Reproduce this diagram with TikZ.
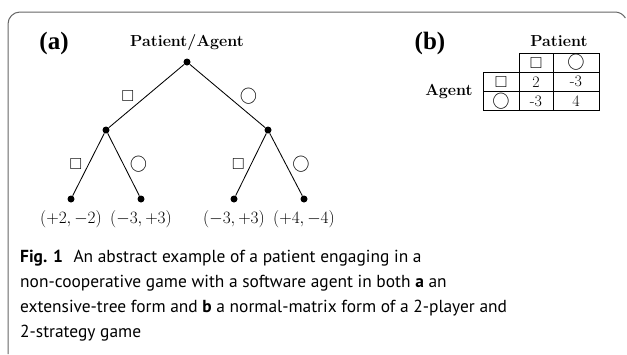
\documentclass[tikz,border=0pt]{standalone}
\usepackage{amssymb}
\usepackage{fontspec}
\newfontfamily\capfont{PT Sans}
\newfontfamily\panelfont{Liberation Serif}
\usetikzlibrary{positioning}

\tikzset{
  treedot/.style={circle, fill=black, inner sep=0pt, minimum size=7pt},
  txt/.style={font=\fontsize{16}{19.2}\selectfont, inner sep=0pt},
  txtbf/.style={font=\fontsize{16}{19.2}\selectfont\bfseries, inner sep=0pt},
  panel/.style={font=\panelfont\fontsize{25}{29}\selectfont\bfseries, inner sep=0pt},
  branch/.style={line width=0.85pt},
  gridline/.style={line width=0.85pt},
  framed/.style={line width=1pt, draw=black!60},
  capnode/.style={font=\capfont\fontsize{17.4}{25}\selectfont, inner sep=0pt, align=left}
}

\begin{document}
\begin{tikzpicture}[x=1pt, y=-1pt]
  \useasboundingbox (0,0) rectangle (627,354);

  % outer frame: open at the bottom, rounded at the top corners
  \draw[framed] (8,354) -- (8,24) arc[start angle=180, end angle=270, radius=12]
        -- (615,12) arc[start angle=270, end angle=330, radius=12];

  % ---- (a) extensive form ----
  \node[panel] (pa) at (54,43) {(a)};
  \node[txtbf] (pl) at (187,42) {Patient/Agent};

  \node[treedot] (root) at (187,62) {};
  \node[treedot] (nl) at (106,130) {};
  \node[treedot] (nr) at (268,130) {};
  \node[treedot] (ll) at (71,199) {};
  \node[treedot] (lr) at (141,199) {};
  \node[treedot] (rl) at (234,199) {};
  \node[treedot] (rr) at (304,199) {};

  \draw[branch] (root) -- node[txt, left=12pt] (e1) {$\square$} (nl);
  \draw[branch] (root) -- node[txt, right=12pt] (e2) {$\bigcirc$} (nr);
  \draw[branch] (nl) -- node[txt, left=6pt] (e3) {$\square$} (ll);
  \draw[branch] (nl) -- node[txt, right=6pt] (e4) {$\bigcirc$} (lr);
  \draw[branch] (nr) -- node[txt, left=6pt] (e5) {$\square$} (rl);
  \draw[branch] (nr) -- node[txt, right=6pt] (e6) {$\bigcirc$} (rr);

  \node[txt, below=8pt of ll] (pll) {$(+2,-2)$};
  \node[txt, below=8pt of lr] (plr) {$(-3,+3)$};
  \node[txt, below=8pt of rl] (prl) {$(-3,+3)$};
  \node[txt, below=8pt of rr] (prr) {$(+4,-4)$};

  % ---- (b) normal form ----
  \node[panel] (pb) at (430,43) {(b)};
  \node[txtbf] (colp) at (559,41) {Patient};
  \node[txtbf] (rowp) at (449,91.4) {Agent};

  \draw[gridline] (519,53) rectangle (599,110.6);
  \draw[gridline] (483,72.2) rectangle (599,110.6);
  \draw[gridline] (553,53) -- (553,110.6);
  \draw[gridline] (483,91.4) -- (599,91.4);

  \node[txt] (h1) at (536,62.6) {$\square$};
  \node[txt] (h2) at (576,62.6) {$\bigcirc$};
  \node[txt] (r1) at (501,81.8) {$\square$};
  \node[txt] (r2) at (501,101) {$\bigcirc$};
  \node[txt] (c11) at (536,81.8) {2};
  \node[txt] (c12) at (576,81.8) {-3};
  \node[txt] (c21) at (536,101) {-3};
  \node[txt] (c22) at (576,101) {4};

  % ---- caption ----
  \node[capnode, anchor=north west] (cap) at (20,250)
    {\textbf{Fig. 1}\hspace{0.6em}An abstract example of a patient engaging in a\\
     non-cooperative game with a software agent in both \textbf{a} an\\
     extensive-tree form and \textbf{b} a normal-matrix form of a 2-player and\\
     2-strategy game};
\end{tikzpicture}
\end{document}
